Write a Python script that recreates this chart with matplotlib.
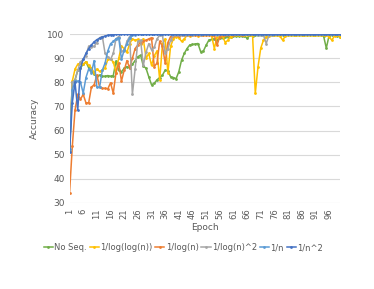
import matplotlib
matplotlib.use('Agg')
import matplotlib.pyplot as plt

epochs = list(range(1, 101))

no_seq = [51.5, 80, 81, 85, 86, 87.5, 88.5, 86, 84.5, 83.5,
          82.5, 83, 82.5, 82.5, 82.8, 82.5, 82.8, 88.8, 85, 84.4,
          85.8, 86.5, 86, 87.5, 89, 90.6, 91.3, 86.8, 85.8, 82.3,
          79, 79.6, 81, 82, 83, 85, 84.8, 82.3, 82, 81.5,
          84.4, 89.2, 92, 94, 95.5, 95.7, 95.9, 96.1, 92.7, 93,
          95.4, 97.5, 97.8, 98, 97.6, 98.2, 98.5, 98.7, 99, 98.9,
          99.2, 99.1, 99.2, 99.3, 99.4, 98.2, 99.5, 99.4, 99.5, 99.5,
          99.6, 99.5, 99.6, 99.5, 99.6, 99.7, 99.6, 99.7, 99.6, 99.7,
          99.7, 99.6, 99.7, 99.8, 99.7, 99.8, 99.7, 99.8, 99.8, 99.7,
          99.8, 99.8, 99.6, 99.2, 94.2, 99.3, 99.6, 99.5, 99.4, 98.8]

loglog = [52, 80.5, 85.5, 87.5, 88, 87.5, 88.5, 87, 86, 84,
          85.5, 84.5, 85, 86, 89.5, 89.5, 88.5, 84, 90, 95,
          94, 92.5, 96, 98, 97.5, 97.8, 96, 98, 90, 92,
          87, 91, 93, 81, 96, 98, 84, 95, 98, 99,
          98.5, 97, 98, 99.5, 99.3, 99.5, 99.6, 99.4, 99.5, 99.6,
          99.5, 99.6, 99.4, 94, 99, 99.4, 99.2, 96.5, 97.5, 99,
          99.5, 99.6, 99.5, 99.7, 99.6, 99.7, 99.6, 99.5, 75.4, 86.5,
          94.2, 97.5, 98.8, 99.3, 99.5, 99.6, 99.5, 99.2, 97.5, 99.2,
          99.6, 99.7, 99.8, 99.7, 99.8, 99.8, 99.7, 99.8, 99.8, 99.7,
          99.8, 99.8, 99.7, 99.8, 99.6, 98.9, 97.5, 99.2, 99.5, 99]

log_n = [34.2, 53.4, 68.5, 75, 73, 75, 71.5, 71.5, 78, 79,
         83, 78, 77.5, 77.5, 77.3, 79.8, 75.5, 84, 88, 80.5,
         85, 89, 86, 90, 94, 95.5, 96.5, 97, 97.5, 98,
         98.5, 86.5, 88, 97, 95, 88, 96.5, 99, 99.3, 99.5,
         99.2, 99.6, 99.7, 99.6, 99.7, 99.8, 99.7, 99.8, 99.7, 99.8,
         99.8, 99.7, 99.8, 99.6, 95.4, 99, 99.6, 99.8, 99.8, 99.9,
         99.8, 99.9, 99.9, 99.8, 99.9, 99.9, 99.9, 99.9, 99.9, 99.9,
         99.9, 99.9, 99.9, 99.9, 99.9, 99.9, 99.9, 99.9, 99.9, 99.9,
         99.9, 99.9, 99.9, 99.9, 99.9, 99.9, 99.9, 99.9, 99.9, 99.9,
         99.9, 99.9, 99.9, 99.9, 99.9, 99.9, 99.9, 99.9, 99.9, 99.9]

log_n2 = [52, 80, 81, 85, 88.5, 89.5, 91, 95, 94.5, 95,
          96.5, 98.5, 99, 92, 90.5, 89.5, 92, 98, 99, 93,
          93, 97, 99, 75, 85.5, 97, 97.5, 87, 92.5, 96,
          93.5, 94.5, 98, 99.5, 99.5, 92, 94, 97.5, 99.5, 99.7,
          99.8, 99.7, 99.8, 99.8, 99.9, 99.8, 99.9, 99.9, 99.8, 99.9,
          99.9, 99.9, 99.9, 99.9, 99.8, 99.9, 99.9, 99.9, 99.9, 99.9,
          99.9, 99.9, 99.9, 99.9, 99.9, 99.9, 99.9, 99.9, 99.9, 99.8,
          99.8, 99.5, 96.1, 99.5, 99.8, 99.9, 99.9, 99.9, 99.9, 99.9,
          99.9, 99.9, 99.9, 99.9, 99.9, 99.9, 99.9, 99.9, 99.9, 99.9,
          99.9, 99.9, 99.9, 99.9, 99.9, 99.9, 99.9, 99.9, 99.9, 99.9]

inv_n = [52.5, 77, 80.5, 80.5, 80, 75.5, 82, 85.5, 84, 89,
         78, 78, 85, 88, 93, 96, 97, 98, 98.5, 89.5,
         93.5, 96, 98.5, 99.5, 99.8] + [100] * 75

inv_n2 = [51, 71.5, 80, 68.5, 86, 89.5, 92, 94, 95.5, 96.8,
          97.7, 98.3, 98.8, 99.2, 99.5, 99.7, 99.8, 99.9, 99.95] + [100] * 81

names = ['No Seq.', '1/log(log(n))', '1/log(n)', '1/log(n)^2', '1/n', '1/n^2']
colors = ['#70AD47', '#FFC000', '#ED7D31', '#A5A5A5', '#5B9BD5', '#4472C4']
series = [no_seq, loglog, log_n, log_n2, inv_n, inv_n2]

fig = plt.figure(figsize=(3.74, 2.89), dpi=100)
ax = fig.add_axes([0.186, 0.298, 0.723, 0.584])

for name, col, vals in zip(names, colors, series):
    ax.plot(epochs, vals, color=col, lw=1.1, marker='o', ms=2.0,
            markeredgewidth=0, label=name)

ax.set_xlim(1, 100)
ax.set_ylim(30, 100)
ax.set_yticks(range(30, 101, 10))
ax.set_xticks(range(1, 101, 5))
ax.set_xticklabels([str(t) for t in range(1, 101, 5)], rotation=90)
ax.tick_params(axis='y', length=0, labelsize=6.5, colors='#595959')
ax.tick_params(axis='x', length=0, labelsize=6, colors='#595959', pad=4)
ax.grid(axis='y', color='#D9D9D9', lw=0.8)
ax.set_axisbelow(True)
for s in ax.spines.values():
    s.set_visible(False)

ax.set_xlabel('Epoch', fontsize=6.5, color='#595959', labelpad=3)
ax.set_ylabel('Accuracy', fontsize=6.5, color='#595959', labelpad=6)

fig.legend(loc='center', bbox_to_anchor=(0.49, 0.143), ncol=6, fontsize=6,
           frameon=False, handlelength=1.1, handletextpad=0.15, columnspacing=0.35,
           labelcolor='#595959')

fig.savefig('out.png', dpi=100)
